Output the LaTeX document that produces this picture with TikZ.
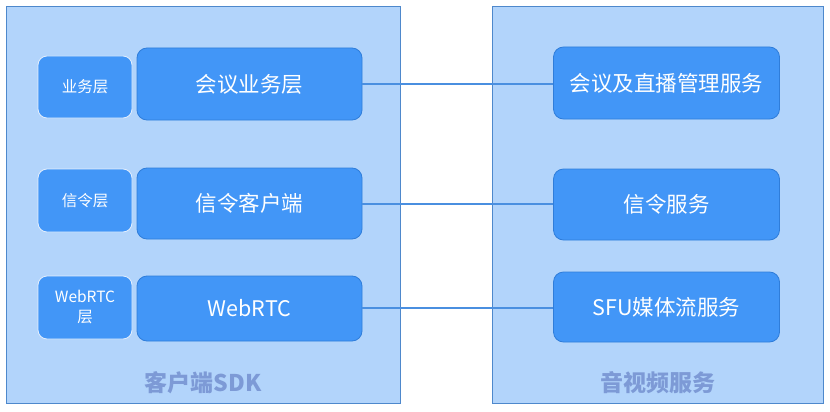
\documentclass[tikz,border=0pt]{standalone}
\usepackage{fontspec}
\setmainfont{Noto Sans CJK SC}
\definecolor{contfill}{HTML}{B2D4FB}
\definecolor{contdraw}{HTML}{4E88CC}
\definecolor{boxfill}{HTML}{4296F7}
\definecolor{boxdraw}{HTML}{2F7DDA}
\definecolor{linecol}{HTML}{4A8FE0}
\definecolor{labcol}{HTML}{7D9AD6}
\tikzset{
  container/.style={draw=contdraw, fill=contfill, line width=0.8pt},
  bigbox/.style={draw=boxdraw, fill=boxfill, rounded corners=10pt, line width=0.8pt, text=white, font=\fontsize{21.5}{25}\selectfont},
  smallbox/.style={draw=white!85!boxfill, fill=boxfill, rounded corners=9pt, line width=0.8pt, text=white, font=\fontsize{15.5}{20}\selectfont, align=center},
  conn/.style={draw=linecol, line width=1.5pt},
  grouplabel/.style={text=labcol, font=\fontsize{23}{27}\selectfont\bfseries}
}
\begin{document}
\begin{tikzpicture}[x=1pt,y=-1pt]
\useasboundingbox (0,0) rectangle (830,412);
\fill[white] (0,0) rectangle (830,412);
% containers
\draw[container] (6,6) rectangle (400,403);
\draw[container] (492,6) rectangle (823,403);
% left small boxes
\node[smallbox, minimum width=94pt, minimum height=62pt] (s1) at (85,87) {业务层};
\node[smallbox, minimum width=94pt, minimum height=63pt] (s2) at (85,200.5) {信令层};
\node[smallbox, minimum width=94pt, minimum height=63pt, text width=84pt, inner sep=0pt] (s3) at (85,307.5) {WebRTC\\层};
% left big boxes
\node[bigbox, minimum width=225pt, minimum height=72pt] (b1) at (249.5,84) {会议业务层};
\node[bigbox, minimum width=225pt, minimum height=71pt] (b2) at (249.5,203.5) {信令客户端};
\node[bigbox, minimum width=225pt, minimum height=65pt] (b3) at (249.5,308.5) {WebRTC};
% right boxes
\node[bigbox, minimum width=226pt, minimum height=72pt] (r1) at (666.5,83) {会议及直播管理服务};
\node[bigbox, minimum width=226pt, minimum height=71pt] (r2) at (666.5,204.5) {信令服务};
\node[bigbox, minimum width=226pt, minimum height=70pt] (r3) at (666.5,307) {SFU媒体流服务};
% connectors
\draw[conn] (b1.east |- 0,84) -- (r1.west |- 0,84);
\draw[conn] (b2.east |- 0,204) -- (r2.west |- 0,204);
\draw[conn] (b3.east |- 0,308) -- (r3.west |- 0,308);
% labels
\node[grouplabel] (l1) at (203,383) {客户端SDK};
\node[grouplabel] (l2) at (658,383) {音视频服务};
\end{tikzpicture}
\end{document}
